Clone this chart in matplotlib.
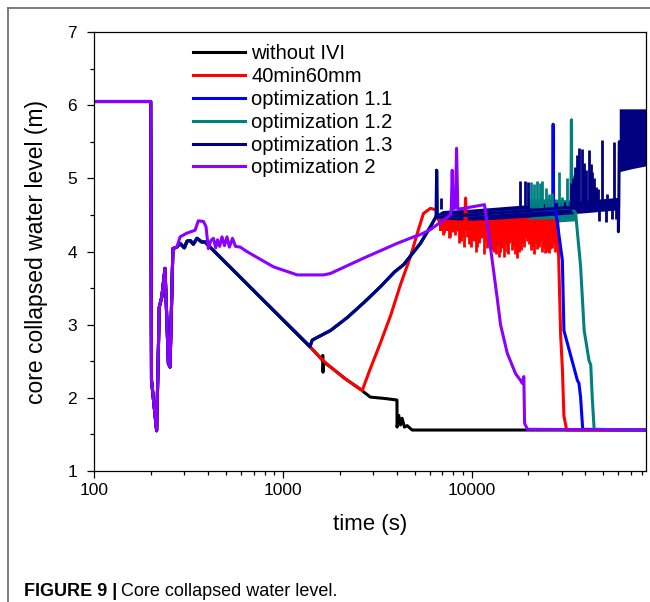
import matplotlib
matplotlib.use('Agg')
import matplotlib.pyplot as plt
from matplotlib.lines import Line2D
import matplotlib.ticker as mticker

plt.rcParams['font.family'] = ['Liberation Sans', 'DejaVu Sans']

# ---------------- data (time in s, level in m) ----------------
labels = ['without IVI', '40min60mm', 'optimization 1.1',
          'optimization 1.2', 'optimization 1.3', 'optimization 2']
colors = ['#000000', '#ff0000', '#0000ff', '#008080', '#000080', '#8c00ff']

# common start (all cases)
start_t = [100, 199, 201, 214, 221, 228, 237, 247, 252, 261, 274]
start_v = [6.05, 6.05, 2.24, 1.55, 3.24, 3.38, 3.77, 2.47, 2.42, 4.04, 4.06]

# common part of the IVI cases
ivi_t = [285, 300, 310, 322, 335, 350, 371, 386, 735, 1390]
ivi_v = [4.11, 4.05, 4.14, 4.15, 4.10, 4.18, 4.13, 4.13, 3.41, 2.70]

# without IVI
black_t = [1600, 1620, 1625, 1630, 1640, 1790, 2140, 2630, 2680, 2905, 3500,
           4020, 4025, 4108, 4195, 4282, 4404, 4551, 4838, 84000]
black_v = [2.53, 2.51, 2.58, 2.35, 2.49, 2.42, 2.26, 2.10, 2.08, 2.01, 1.99,
           1.97, 1.60, 1.76, 1.63, 1.72, 1.60, 1.62, 1.56, 1.56]

# 40min60mm
red_t = [1600, 1790, 2140, 2630, 2905, 3285, 3715, 4200, 4740, 5225, 5555,
         6050, 6460, 6700, 9200, 9290, 9380, 28600, 29650, 30270, 30850,
         31900, 84000]
red_v = [2.53, 2.42, 2.26, 2.10, 2.40, 2.75, 3.12, 3.55, 3.93, 4.30, 4.52,
         4.59, 4.57, 4.42, 4.40, 4.73, 4.40, 4.42, 2.85, 2.40, 1.75,
         1.56, 1.56]
red_band_t = [6700, 10000, 20000, 28500]
red_band_lo = [4.28, 4.28, 4.28, 4.28]
red_band_hi = [4.48, 4.48, 4.48, 4.48]
red_spike_t = [6921, 7050, 7180, 7320, 7449, 7590, 7727, 7870, 8016, 8200,
               8386, 8560, 8734, 8910, 9092, 9476, 9670, 9867, 10070, 10273,
               10490, 10708, 10920, 11150, 11384, 11610, 11853, 12070, 12296,
               12580, 12864, 13130, 13394, 13670, 13948, 14180, 14415, 14826,
               15080, 15322, 15540, 15760, 16090, 16427, 16660, 16896, 17170,
               17459, 17820, 18180, 18550, 18930, 19250, 19565, 20050, 20540,
               20920, 21306, 21837, 22280, 22736, 23100, 23496, 24165, 24560,
               24974, 25330, 25690, 26120, 26555, 27050, 27542, 28223]
red_spike_v = [4.30, 4.22, 4.25, 4.32, 4.30, 4.18, 4.20, 4.26, 4.28, 4.22,
               4.28, 4.12, 4.15, 4.20, 4.06, 4.20, 4.10, 4.06, 4.16, 4.15,
               4.00, 4.06, 4.11, 4.18, 4.20, 3.97, 4.15, 4.05, 4.10,
               4.08, 4.02, 3.99, 3.97, 4.08, 3.93, 4.00, 4.05, 3.93,
               4.10, 4.00, 3.96, 4.11, 4.15, 4.02, 4.08, 3.97, 4.05,
               3.91, 4.00, 4.02, 4.12, 4.06, 4.20, 4.15, 4.10, 4.02,
               4.08, 3.97, 4.11, 4.03, 4.06, 4.15, 4.00, 4.06, 3.98,
               4.00, 4.10, 3.98, 4.03, 4.05, 4.12, 4.00, 4.10]

# rising branch shared by the optimization 1.x cases
opt_t = [1430, 1786, 2200, 2680, 3290, 3900, 4360, 5350, 6050, 6460, 6500,
         6520, 6560, 6600]
opt_v = [2.79, 2.92, 3.10, 3.30, 3.52, 3.72, 3.82, 4.11, 4.34, 4.47, 4.50,
         5.11, 4.52, 4.47]

# optimization 1.3 plateau band and spikes
navy_band_t = [6600, 7000, 10000, 20000, 40000, 60000]
navy_band_lo = [4.40, 4.41, 4.42, 4.47, 4.53, 4.57]
navy_band_hi = [4.52, 4.56, 4.58, 4.64, 4.70, 4.74]
navy_mid_t = [10000, 20000, 40000, 59800, 60000, 60300, 60600, 70000, 84000]
navy_mid_v = [4.50, 4.56, 4.62, 4.66, 4.27, 4.66, 5.50, 5.54, 5.56]
navy_spike_t = [6840, 18150, 19100, 20000, 33500, 34500, 35400, 36350, 37050,
                38650, 39400, 40230, 41900, 42800, 43650, 44500, 45470, 47000,
                49300, 52450, 56900, 47300, 51400, 55700, 58300]
navy_spike_v = [4.73, 4.97, 4.97, 4.95, 4.93, 5.00, 5.15, 5.32, 5.41,
                5.40, 5.21, 5.11, 5.39, 5.20, 5.09, 5.00, 4.88, 4.85,
                5.53, 4.79, 5.50, 4.42, 4.40, 4.44, 4.45]
navy_top_t = [60600, 70000, 84000]
navy_top_lo = [5.09, 5.13, 5.17]
navy_top_hi = [5.95, 5.95, 5.95]

# optimization 1.1
blue_t = [10000, 20000, 26900, 27050, 27200, 27880, 30270, 30850, 36350,
          37050, 37800, 38800, 84000]
blue_v = [4.50, 4.56, 4.56, 5.74, 4.56, 4.56, 3.88, 2.92, 2.24,
          2.20, 2.01, 1.57, 1.56]

# optimization 1.2
teal_t = [10000, 20000, 33600, 33800, 34000, 35600, 37800, 39500, 41900,
          42800, 43600, 44600, 84000]
teal_v = [4.50, 4.56, 4.60, 5.80, 4.60, 4.52, 3.80, 2.92, 2.51,
          2.45, 2.00, 1.57, 1.56]
teal_band_t = [20000, 27000, 35400]
teal_band_lo = [4.42, 4.40, 4.42]
teal_band_hi = [4.72, 4.72, 4.70]
teal_spike_t = [20540, 21380, 22290, 23000, 23700, 24680, 25700, 26800,
                29050, 30270, 32150, 34870]
teal_spike_v = [4.95, 4.92, 4.97, 4.93, 4.97, 4.87, 4.78, 4.80,
                5.09, 4.75, 5.00, 5.05]

# optimization 2
purple_t = [285, 309, 342, 356, 379, 391, 402, 415, 428, 440, 450, 462, 475,
            490, 505, 520, 540, 560, 594, 643, 891, 1190, 1640, 1786, 2680,
            4020, 4930, 5340, 6050, 6840, 7730, 7800, 7890, 7980, 8200, 8320,
            8450, 8600, 11700, 12300, 13700, 14230, 15450, 17100, 18150,
            18530, 18910, 19090, 19780, 84000]
purple_v = [4.20, 4.25, 4.29, 4.42, 4.41, 4.34, 4.04, 4.15, 4.18, 4.05, 4.16,
            4.07, 4.20, 4.08, 4.20, 4.06, 4.18, 4.07, 4.06, 4.00, 3.79, 3.68,
            3.68, 3.70, 3.91, 4.11, 4.20, 4.23, 4.30, 4.40, 4.50, 4.58, 5.11,
            4.58, 4.60, 5.41, 4.58, 4.58, 4.64, 4.25, 3.34, 3.00, 2.61, 2.33,
            2.24, 2.20, 2.29, 1.65, 1.57, 1.56]

x_ticks = [100, 1000, 10000]
y_ticks = [1, 2, 3, 4, 5, 6, 7]

# ---------------- figure ----------------
W, H = 650, 602
fig = plt.figure(figsize=(W / 100, H / 100), dpi=100)
ax = fig.add_axes([94.3 / W, 1 - 471 / H, (646 - 94.3) / W, (471 - 32) / H])

LW = 2.2
SLW = 2.0
c_black, c_red, c_blue, c_teal, c_navy, c_purple = colors

# without IVI
ax.plot(start_t + ivi_t + black_t, start_v + ivi_v + black_v, color=c_black,
        lw=LW)

# 40min60mm
ax.fill_between(red_band_t, red_band_lo, red_band_hi, color=c_red, lw=0)
ax.vlines(red_spike_t, 4.40, red_spike_v, color=c_red, lw=SLW)
ax.plot(start_t + ivi_t + red_t, start_v + ivi_v + red_v, color=c_red, lw=LW)

# optimization 1.1
ax.plot(start_t + ivi_t + opt_t + blue_t, start_v + ivi_v + opt_v + blue_v,
        color=c_blue, lw=LW)

# optimization 1.2
ax.fill_between(teal_band_t, teal_band_lo, teal_band_hi, color=c_teal, lw=0)
ax.vlines(teal_spike_t, 4.60, teal_spike_v, color=c_teal, lw=SLW)
ax.plot(start_t + ivi_t + opt_t + teal_t, start_v + ivi_v + opt_v + teal_v,
        color=c_teal, lw=LW)

# optimization 1.3
ax.fill_between(navy_band_t, navy_band_lo, navy_band_hi, color=c_navy, lw=0)
ax.fill_between(navy_top_t, navy_top_lo, navy_top_hi, color=c_navy, lw=0)
ax.vlines(navy_spike_t, 4.58, navy_spike_v, color=c_navy, lw=SLW)
ax.plot(start_t + ivi_t + opt_t + navy_mid_t, start_v + ivi_v + opt_v + navy_mid_v,
        color=c_navy, lw=LW)

# optimization 2
ax.plot(start_t + purple_t, start_v + purple_v, color=c_purple, lw=LW)

ax.set_xscale('log')
ax.set_xlim(100, 84000)
ax.set_ylim(1, 7)
ax.set_xticks(x_ticks)
ax.set_xticklabels([str(v) for v in x_ticks])
ax.set_yticks(y_ticks)
ax.set_yticklabels([str(v) for v in y_ticks])
ax.yaxis.set_minor_locator(mticker.MultipleLocator(0.5))
ax.xaxis.set_minor_locator(mticker.LogLocator(base=10, subs=range(2, 10), numticks=20))
ax.xaxis.set_minor_formatter(mticker.NullFormatter())
ax.tick_params(which='major', direction='out', length=5, width=0.9,
               labelsize=12.5)
ax.tick_params(axis='x', which='major', pad=3.5)
ax.tick_params(axis='y', which='major', pad=7.5)
ax.tick_params(which='minor', direction='out', length=3, width=0.9)
for s in ax.spines.values():
    s.set_linewidth(0.9)

ax.set_xlabel('time (s)', fontsize=16, labelpad=12)
ax.set_ylabel('core collapsed water level (m)', fontsize=16.5, labelpad=14)

handles = [Line2D([], [], color=c, lw=LW) for c in colors]
ax.legend(handles, labels, loc='upper left', bbox_to_anchor=(0.179, 0.972),
          frameon=False, fontsize=14.5, handlelength=2.6, handletextpad=0.3,
          labelspacing=0.19, borderpad=0, borderaxespad=0)

# frame of the figure panel
fig.add_artist(Line2D([8 / W, 1], [1 - 8 / H, 1 - 8 / H], color='#666666', lw=1.2))
fig.add_artist(Line2D([8 / W, 8 / W], [0, 1 - 8 / H], color='#666666', lw=1.2))

# caption
t1 = fig.text(24 / W, 1 - 596 / H, 'FIGURE 9 |', fontsize=13, weight='bold',
              va='baseline', ha='left')
fig.canvas.draw()
bb = t1.get_window_extent()
fig.text(bb.x1 / W + 4 / W, 1 - 596 / H, 'Core collapsed water level.',
         fontsize=13, va='baseline', ha='left')

fig.savefig('out.png', dpi=100)
